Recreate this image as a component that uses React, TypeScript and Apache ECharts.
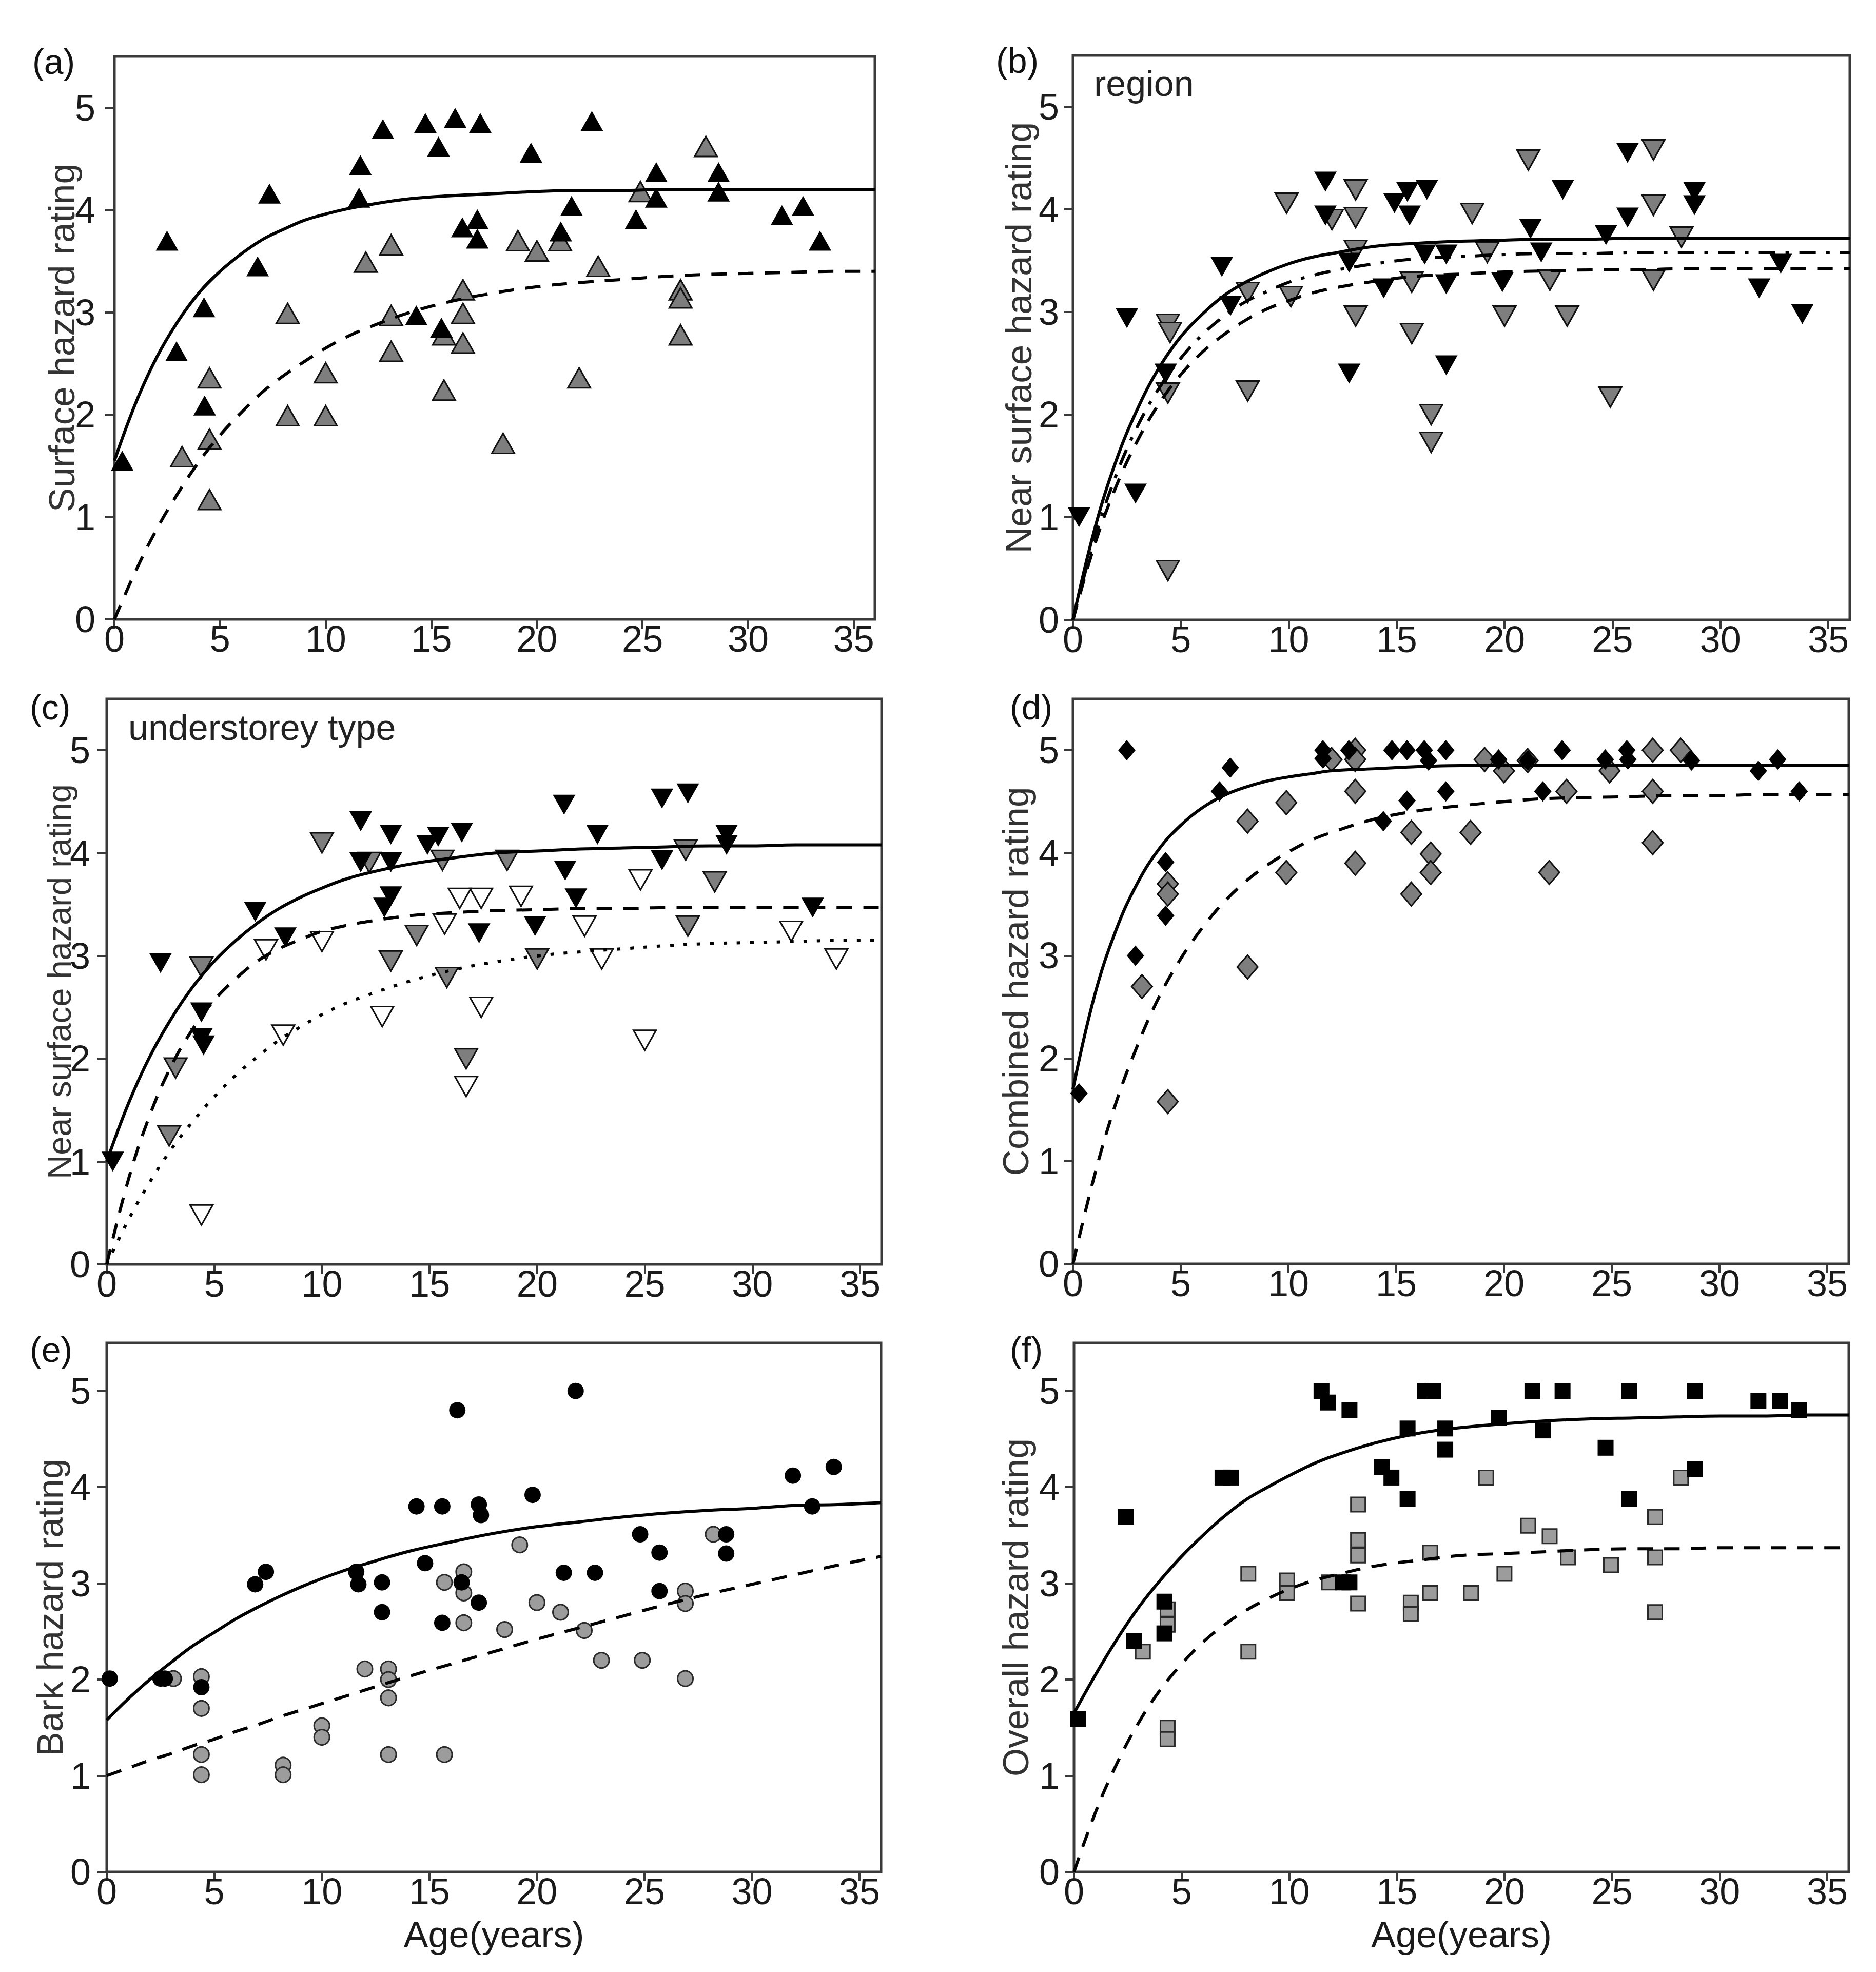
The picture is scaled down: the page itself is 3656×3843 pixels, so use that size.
import React, { useEffect, useRef } from 'react';
import * as echarts from 'echarts';

const W = 3656;
const H = 3843;
const FONT = "'Liberation Sans', Arial, Helvetica, sans-serif";

// ---------- axis ticks & texts ----------
const xTicks = [0, 5, 10, 15, 20, 25, 30, 35];
const yTicks = [0, 1, 2, 3, 4, 5];
const panelLabels = ['(a)', '(b)', '(c)', '(d)', '(e)', '(f)'];
const yTitles = [
  'Surface hazard rating',
  'Near surface hazard rating',
  'Near surface hazard rating',
  'Combined hazard rating',
  'Bark hazard rating',
  'Overall hazard rating',
];
const xTitle = 'Age(years)';

// ---------- fitted curves ----------
const curveX = [0, 1, 2, 3, 4, 5, 6, 7, 8, 9, 10, 11, 12, 14, 16, 18, 20, 22, 24, 26, 28, 30, 32, 34, 36];
const aSolid = [1.55, 2.11, 2.56, 2.91, 3.19, 3.4, 3.57, 3.71, 3.81, 3.9, 3.96, 4.01, 4.05, 4.11, 4.14, 4.16, 4.18, 4.19, 4.19, 4.2, 4.2, 4.2, 4.2, 4.2, 4.2];
const aDashed = [0, 0.47, 0.88, 1.23, 1.54, 1.8, 2.02, 2.22, 2.38, 2.52, 2.65, 2.76, 2.85, 3.0, 3.11, 3.19, 3.25, 3.29, 3.32, 3.35, 3.37, 3.38, 3.39, 3.4, 3.4];
const bSolid = [0, 0.88, 1.55, 2.06, 2.46, 2.76, 2.98, 3.16, 3.29, 3.39, 3.47, 3.53, 3.57, 3.64, 3.67, 3.69, 3.7, 3.71, 3.71, 3.72, 3.72, 3.72, 3.72, 3.72, 3.72];
const bDashDot = [0, 0.79, 1.41, 1.89, 2.26, 2.55, 2.78, 2.96, 3.1, 3.2, 3.29, 3.35, 3.4, 3.47, 3.52, 3.54, 3.56, 3.57, 3.57, 3.58, 3.58, 3.58, 3.58, 3.58, 3.58];
const bDashed = [0, 0.73, 1.3, 1.75, 2.11, 2.39, 2.61, 2.78, 2.92, 3.03, 3.11, 3.18, 3.23, 3.3, 3.35, 3.37, 3.39, 3.4, 3.41, 3.41, 3.42, 3.42, 3.42, 3.42, 3.42];
const cSolid = [1.0, 1.56, 2.02, 2.39, 2.7, 2.95, 3.15, 3.32, 3.46, 3.57, 3.66, 3.74, 3.8, 3.89, 3.95, 4.0, 4.02, 4.04, 4.05, 4.06, 4.07, 4.07, 4.08, 4.08, 4.08];
const cDashed = [0, 0.82, 1.45, 1.93, 2.29, 2.57, 2.78, 2.95, 3.07, 3.16, 3.24, 3.29, 3.33, 3.39, 3.42, 3.44, 3.45, 3.46, 3.46, 3.47, 3.47, 3.47, 3.47, 3.47, 3.47];
const cDotted = [0, 0.43, 0.8, 1.12, 1.39, 1.63, 1.84, 2.02, 2.18, 2.31, 2.43, 2.53, 2.61, 2.75, 2.86, 2.94, 3.0, 3.04, 3.07, 3.1, 3.12, 3.13, 3.14, 3.15, 3.15];
const dSolid = [1.7, 2.61, 3.25, 3.71, 4.04, 4.27, 4.44, 4.56, 4.64, 4.7, 4.74, 4.77, 4.8, 4.82, 4.84, 4.85, 4.85, 4.85, 4.85, 4.85, 4.85, 4.85, 4.85, 4.85, 4.85];
const dDashed = [0, 0.86, 1.57, 2.13, 2.6, 2.97, 3.27, 3.52, 3.72, 3.88, 4.01, 4.12, 4.2, 4.33, 4.41, 4.46, 4.5, 4.53, 4.54, 4.55, 4.56, 4.56, 4.57, 4.57, 4.57];
const eSolid = [1.58, 1.8, 2.0, 2.18, 2.35, 2.49, 2.63, 2.75, 2.86, 2.96, 3.05, 3.13, 3.2, 3.33, 3.43, 3.52, 3.59, 3.64, 3.69, 3.73, 3.76, 3.78, 3.81, 3.82, 3.84];
const eDashed = [1.0, 1.08, 1.16, 1.23, 1.31, 1.38, 1.46, 1.53, 1.61, 1.68, 1.75, 1.82, 1.89, 2.03, 2.16, 2.29, 2.42, 2.54, 2.66, 2.78, 2.89, 2.99, 3.09, 3.19, 3.28];
const fSolid = [1.65, 2.05, 2.42, 2.75, 3.03, 3.28, 3.5, 3.7, 3.87, 4.0, 4.12, 4.23, 4.32, 4.46, 4.56, 4.62, 4.66, 4.69, 4.71, 4.72, 4.73, 4.74, 4.74, 4.75, 4.75];
const fDashed = [0, 0.62, 1.13, 1.55, 1.89, 2.16, 2.39, 2.57, 2.72, 2.84, 2.94, 3.02, 3.08, 3.18, 3.24, 3.29, 3.31, 3.33, 3.35, 3.36, 3.36, 3.37, 3.37, 3.37, 3.37];

// ---------- observations ----------
const aBlack = [[0.37, 1.55], [2.49, 3.7], [2.94, 2.62], [4.24, 3.05], [4.27, 2.09], [6.78, 3.45], [7.34, 4.16], [11.64, 4.44], [11.58, 4.12], [12.71, 4.79], [14.72, 4.85], [15.34, 4.62], [16.13, 4.9], [17.32, 4.85], [16.47, 3.83], [17.18, 3.91], [17.18, 3.72], [14.29, 2.97], [15.48, 2.85], [19.72, 4.56], [21.13, 3.79], [21.64, 4.04], [22.6, 4.87], [24.69, 3.91], [25.65, 4.37], [25.65, 4.12], [28.6, 4.37], [28.6, 4.18], [31.6, 3.95], [32.6, 4.04], [33.4, 3.7]];
const aGray = [[3.2, 1.59], [4.5, 2.36], [4.5, 1.76], [4.5, 1.17], [8.2, 2.99], [8.2, 1.99], [10.0, 2.41], [10.0, 1.99], [11.9, 3.49], [13.1, 3.66], [13.1, 2.97], [13.1, 2.62], [15.6, 2.78], [15.6, 2.24], [16.5, 3.22], [16.5, 2.99], [16.5, 2.7], [18.4, 1.72], [19.1, 3.7], [20.0, 3.6], [21.1, 3.7], [22.0, 2.36], [22.9, 3.45], [24.9, 4.18], [26.8, 3.22], [26.8, 3.14], [26.8, 2.78], [28.0, 4.62]];

const bBlack = [[0.28, 1.0], [2.5, 2.94], [2.9, 1.23], [4.3, 2.4], [6.9, 3.44], [7.3, 3.06], [11.7, 4.27], [11.7, 3.94], [12.8, 3.48], [12.8, 2.4], [14.4, 3.23], [14.9, 4.06], [15.5, 4.17], [15.6, 3.94], [16.4, 4.19], [16.3, 3.56], [17.3, 3.56], [17.3, 3.27], [17.3, 2.48], [19.9, 3.29], [21.2, 3.81], [21.7, 3.58], [22.7, 4.19], [24.7, 3.75], [25.7, 4.55], [25.7, 3.92], [28.8, 4.17], [28.8, 4.04], [31.8, 3.23], [32.8, 3.47], [33.8, 2.98]];
const bGray = [[4.4, 2.88], [4.5, 2.8], [4.4, 2.21], [4.4, 0.48], [8.1, 2.23], [8.1, 3.19], [9.9, 4.06], [10.1, 3.15], [12.0, 3.9], [13.1, 4.19], [13.1, 3.92], [13.1, 3.6], [13.1, 2.96], [15.7, 3.29], [15.7, 2.79], [16.6, 2.0], [16.6, 1.73], [18.5, 3.96], [19.2, 3.58], [20.0, 2.96], [21.1, 4.48], [22.1, 3.31], [22.9, 2.96], [24.9, 2.17], [26.9, 4.58], [26.9, 4.04], [26.9, 3.31], [28.2, 3.73]];

const cBlack = [[0.28, 1.0], [2.5, 2.93], [4.4, 2.45], [4.4, 2.2], [4.5, 2.13], [6.9, 3.43], [8.3, 3.18], [11.8, 4.31], [11.8, 3.91], [13.2, 4.18], [13.2, 3.91], [13.2, 3.58], [12.9, 3.47], [14.9, 4.08], [15.4, 4.16], [16.5, 4.2], [17.3, 3.22], [19.9, 3.29], [21.25, 4.47], [21.3, 3.83], [21.8, 3.56], [22.8, 4.18], [25.8, 4.53], [25.8, 3.93], [27.0, 4.58], [28.8, 4.18], [28.8, 4.08], [32.8, 3.47]];
const cGray = [[2.9, 1.25], [3.2, 1.91], [4.4, 2.89], [10.0, 4.1], [12.2, 3.91], [13.2, 2.95], [14.4, 3.2], [15.6, 3.93], [15.8, 2.79], [16.7, 2.0], [18.6, 3.93], [20.0, 2.97], [26.9, 4.03], [27.0, 3.29], [28.25, 3.72]];
const cWhite = [[4.4, 0.48], [7.4, 3.06], [8.2, 2.23], [10.0, 3.14], [12.8, 2.41], [15.7, 3.31], [16.4, 3.56], [17.4, 3.56], [17.4, 2.5], [16.7, 1.73], [19.25, 3.58], [22.2, 3.29], [23.0, 2.97], [24.8, 3.74], [25.0, 2.18], [31.8, 3.24], [33.9, 2.97]];

const dBlack = [[0.28, 1.66], [2.5, 5.0], [2.9, 3.0], [4.3, 3.91], [4.3, 3.39], [6.8, 4.6], [7.3, 4.83], [11.6, 5.0], [11.6, 4.92], [12.8, 5.0], [14.4, 4.31], [14.8, 5.0], [15.5, 5.0], [15.5, 4.51], [16.3, 5.0], [16.5, 4.9], [17.3, 5.0], [17.3, 4.6], [19.75, 4.91], [21.1, 4.9], [21.8, 4.6], [22.7, 5.0], [24.7, 4.91], [25.7, 5.0], [25.75, 4.91], [28.7, 4.9], [31.8, 4.8], [32.7, 4.91], [33.7, 4.6]];
const dGray = [[3.2, 2.7], [4.4, 3.7], [4.4, 3.6], [4.4, 1.58], [8.1, 4.31], [8.1, 2.89], [9.9, 4.49], [9.9, 3.81], [12.0, 4.91], [13.1, 5.0], [13.1, 4.91], [13.1, 4.6], [13.1, 3.9], [15.7, 4.2], [15.7, 3.6], [16.6, 3.99], [16.6, 3.81], [18.45, 4.2], [19.1, 4.91], [20.0, 4.8], [21.1, 4.9], [22.1, 3.81], [22.9, 4.6], [24.9, 4.8], [26.9, 5.0], [26.9, 4.6], [26.9, 4.1], [28.2, 5.0]];

const eBlack = [[0.14, 2.01], [2.5, 2.01], [2.7, 2.01], [4.4, 1.92], [6.9, 2.99], [7.4, 3.12], [11.6, 3.12], [11.7, 2.99], [12.8, 3.01], [12.8, 2.7], [14.4, 3.8], [14.8, 3.21], [15.6, 3.8], [15.6, 2.59], [16.3, 4.8], [16.5, 3.01], [17.3, 3.82], [17.4, 3.71], [17.3, 2.8], [19.8, 3.92], [21.25, 3.11], [21.8, 5.0], [22.7, 3.11], [24.8, 3.51], [25.7, 3.32], [25.7, 2.92], [28.8, 3.51], [28.8, 3.31], [31.9, 4.12], [32.8, 3.8], [33.8, 4.21]];
const eGray = [[3.1, 2.01], [4.4, 2.03], [4.4, 1.7], [4.4, 1.22], [4.4, 1.01], [8.2, 1.11], [8.2, 1.01], [10.0, 1.52], [10.0, 1.4], [12.0, 2.11], [13.1, 2.11], [13.1, 2.0], [13.1, 1.81], [13.1, 1.22], [15.7, 1.22], [15.7, 3.01], [16.6, 3.12], [16.6, 2.9], [16.6, 2.59], [18.5, 2.52], [19.2, 3.4], [20.0, 2.8], [21.1, 2.7], [22.2, 2.51], [23.0, 2.2], [24.9, 2.2], [26.9, 2.92], [26.9, 2.79], [26.9, 2.01], [28.2, 3.51]];

const fBlack = [[0.2, 1.59], [2.4, 3.69], [2.8, 2.4], [4.2, 2.81], [4.2, 2.48], [6.9, 4.1], [7.3, 4.1], [11.5, 5.0], [11.8, 4.88], [12.8, 4.8], [12.8, 3.01], [12.5, 3.01], [14.3, 4.21], [14.75, 4.1], [15.5, 3.88], [15.5, 4.61], [16.3, 5.0], [16.7, 5.0], [17.25, 4.61], [17.25, 4.39], [19.75, 4.72], [21.3, 5.0], [21.8, 4.59], [22.7, 5.0], [24.7, 4.41], [25.8, 5.0], [25.8, 3.88], [28.85, 5.0], [28.85, 4.19], [31.8, 4.9], [32.8, 4.9], [33.7, 4.8]];
const fGray = [[3.2, 2.29], [4.35, 2.73], [4.35, 2.57], [4.35, 1.5], [4.35, 1.38], [8.1, 3.1], [8.1, 2.29], [9.9, 3.03], [9.9, 2.9], [11.85, 3.01], [13.2, 3.82], [13.2, 3.45], [13.2, 3.29], [13.2, 2.79], [15.65, 2.8], [15.65, 2.68], [16.55, 3.32], [16.55, 2.9], [18.45, 2.9], [19.15, 4.1], [20.0, 3.1], [21.1, 3.6], [22.1, 3.49], [22.95, 3.27], [24.95, 3.19], [27.0, 3.69], [27.0, 3.27], [27.0, 2.7], [28.2, 4.1]];

// ---------- layout ----------
const GRIDS = [
  { left: 223, top: 110, width: 1482, height: 1097 },
  { left: 2091, top: 108, width: 1514, height: 1100 },
  { left: 208, top: 1362, width: 1510, height: 1102 },
  { left: 2091, top: 1362, width: 1512, height: 1101 },
  { left: 208, top: 2617, width: 1509, height: 1031 },
  { left: 2093, top: 2617, width: 1510, height: 1031 },
];
const Y_NAME_GAP = [67, 70, 60, 76, 75, 78];
const Y_NAME_SIZE = [71, 71, 65, 71, 71, 71];
const Y_LABEL_MARGIN = [37, 27, 32, 27, 31, 28];
const LABEL_POS = [[63, 126], [1941, 124], [58, 1384], [1968, 1384], [58, 2636], [1968, 2636]];

const curve = (ys: number[]) => curveX.map((x, i) => [x, ys[i]]);

const SOLID = { type: 'solid', width: 6, color: '#000' };
const DASHED = { type: [30, 22], width: 6, color: '#000' };
const DASHDOT = { type: [32, 20, 7, 20], width: 6, color: '#000' };
const DOTTED = { type: [7, 19], width: 6, color: '#000' };

function lineSeries(i: number, ys: number[], style: any) {
  return {
    type: 'line', xAxisIndex: i, yAxisIndex: i, data: curve(ys),
    showSymbol: false, symbol: 'none', smooth: 0.4,
    lineStyle: style, z: 5, silent: true,
  };
}

function scatter(i: number, data: number[][], symbol: string, size: any, style: any, rotate = 0) {
  return {
    type: 'scatter', xAxisIndex: i, yAxisIndex: i, data, symbol, symbolSize: size,
    symbolRotate: rotate, itemStyle: style, z: 3, silent: true,
  };
}

const BLACK = { color: '#000', borderColor: '#000', borderWidth: 0, opacity: 1 };
const GRAY = { color: '#7e7e7e', borderColor: '#111', borderWidth: 3, opacity: 1 };
const LGRAY = { color: '#9c9c9c', borderColor: '#2a2a2a', borderWidth: 3, opacity: 1 };
const WHITE = { color: '#fff', borderColor: '#111', borderWidth: 3, opacity: 1 };

export default function App() {
  const ref = useRef<HTMLDivElement>(null);
  useEffect(() => {
    document.body.style.margin = '0';
    if (!ref.current) return;
    const chart = echarts.init(ref.current, undefined, { renderer: 'svg', width: W, height: H });

    const TRI = [44, 39];
    const series: any[] = [
      // (a)
      scatter(0, aGray, 'triangle', TRI, GRAY),
      scatter(0, aBlack, 'triangle', TRI, BLACK),
      lineSeries(0, aSolid, SOLID),
      lineSeries(0, aDashed, DASHED),
      // (b)
      scatter(1, bGray, 'triangle', TRI, GRAY, 180),
      scatter(1, bBlack, 'triangle', TRI, BLACK, 180),
      lineSeries(1, bSolid, SOLID),
      lineSeries(1, bDashDot, DASHDOT),
      lineSeries(1, bDashed, DASHED),
      // (c)
      scatter(2, cWhite, 'triangle', TRI, WHITE, 180),
      scatter(2, cGray, 'triangle', TRI, GRAY, 180),
      scatter(2, cBlack, 'triangle', TRI, BLACK, 180),
      lineSeries(2, cSolid, SOLID),
      lineSeries(2, cDashed, DASHED),
      lineSeries(2, cDotted, DOTTED),
      // (d)
      scatter(3, dGray, 'diamond', [40, 46], GRAY),
      scatter(3, dBlack, 'diamond', [34, 40], BLACK),
      lineSeries(3, dSolid, SOLID),
      lineSeries(3, dDashed, DASHED),
      // (e)
      scatter(4, eGray, 'circle', 30, LGRAY),
      scatter(4, eBlack, 'circle', 32, BLACK),
      lineSeries(4, eSolid, SOLID),
      lineSeries(4, eDashed, DASHED),
      // (f)
      scatter(5, fGray, 'rect', 28, LGRAY),
      scatter(5, fBlack, 'rect', 31, BLACK),
      lineSeries(5, fSolid, SOLID),
      lineSeries(5, fDashed, DASHED),
    ];

    const graphics: any[] = LABEL_POS.map((p, i) => ({
      type: 'text', left: p[0], top: p[1] - 40, z: 10,
      style: { text: panelLabels[i], fontSize: 68, fontFamily: FONT, fill: '#111' },
    }));
    graphics.push({
      type: 'text', left: 2132, top: 128, z: 10,
      style: { text: 'region', fontSize: 70, fontFamily: FONT, fill: '#222' },
    });
    graphics.push({
      type: 'text', left: 250, top: 1383, z: 10,
      style: { text: 'understorey type', fontSize: 70, fontFamily: FONT, fill: '#222' },
    });

    chart.setOption({
      animation: false,
      backgroundColor: '#fff',
      grid: GRIDS.map((g) => ({
        ...g, show: true, borderColor: '#3a3a3a', borderWidth: 5,
        backgroundColor: 'transparent', containLabel: false, outerBoundsMode: 'none',
      })),
      xAxis: GRIDS.map((_, i) => ({
        type: 'value', gridIndex: i, min: 0, max: 36,
        axisLine: { show: false },
        axisTick: { show: true, length: 18, lineStyle: { color: '#3a3a3a', width: 4 }, customValues: xTicks },
        axisLabel: { show: true, customValues: xTicks, fontSize: 72, color: '#1a1a1a', fontFamily: FONT, margin: 2 },
        splitLine: { show: false },
        name: i >= 4 ? xTitle : '',
        nameLocation: 'middle', nameGap: 86, nameMoveOverlap: false,
        nameTextStyle: { fontSize: 72, color: '#1a1a1a', fontFamily: FONT },
      })),
      yAxis: GRIDS.map((_, i) => ({
        type: 'value', gridIndex: i, min: 0, max: 5.5,
        axisLine: { show: false },
        axisTick: { show: true, length: 18, lineStyle: { color: '#3a3a3a', width: 4 }, customValues: yTicks },
        axisLabel: { show: true, customValues: yTicks, fontSize: 72, color: '#1a1a1a', fontFamily: FONT, margin: Y_LABEL_MARGIN[i] },
        splitLine: { show: false },
        name: yTitles[i],
        nameLocation: 'middle', nameGap: Y_NAME_GAP[i], nameMoveOverlap: false,
        nameTextStyle: { fontSize: Y_NAME_SIZE[i], color: '#333', fontFamily: FONT },
      })),
      graphic: graphics,
      series,
    });
    return () => chart.dispose();
  }, []);
  return <div ref={ref} style={{ width: W, height: H }} />;
}
